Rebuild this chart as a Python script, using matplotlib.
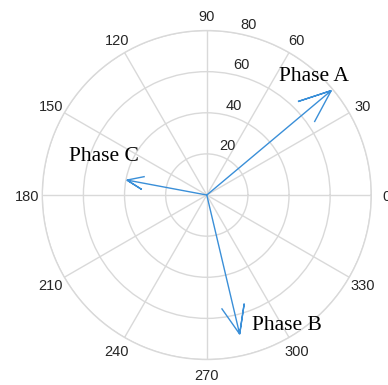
import numpy as np
import matplotlib
matplotlib.use("Agg")
import matplotlib.pyplot as plt

# Phasor data: magnitude and angle (degrees)
phases = ["Phase A", "Phase B", "Phase C"]
magnitudes = [79, 69.5, 39.5]
angles_deg = [40, 283.3, 169.4]

# Label anchor points (angle in degrees, radius)
label_angles = [57.4, 288.6, 166.0]
label_radii = [65.6, 69.4, 68.9]

ring_values = [20, 40, 60, 80]
spoke_angles = list(range(0, 360, 30))

grid_color = "#d9d9d9"
arrow_color = "#3a8fd8"
tick_color = "#262626"

fig = plt.figure(figsize=(3.88, 3.85), dpi=100)
ax = fig.add_axes([0.1090, 0.0662, 0.8479, 0.8545], projection="polar")
ax.set_rlim(0, 80)
ax.set_thetagrids(spoke_angles, [""] * len(spoke_angles))
ax.set_rgrids(ring_values, labels=[""] * len(ring_values))
ax.grid(True, color=grid_color, linewidth=1.0)
ax.spines["polar"].set_color(grid_color)
ax.spines["polar"].set_linewidth(1.0)

# Angle labels centred just outside the outer ring
label_r = ring_values[-1] * 1.094
for a in spoke_angles:
    ax.text(np.deg2rad(a), label_r, str(a), ha="center", va="center_baseline",
            fontsize=10.5, family="Liberation Sans", color=tick_color)

# Radial value labels along the 80 degree direction
for rv in ring_values:
    ax.annotate(str(rv), xy=(np.deg2rad(80), rv), xytext=(3.6, 3.2),
                textcoords="offset points", ha="left", va="baseline",
                fontsize=10.5, family="Liberation Sans", color=tick_color)

# Compass-style arrows: shaft plus two barbs scaled to each magnitude
shape = np.array([0, 1, 0.8 + 0.08j, 1, 0.8 - 0.08j])
for mag, ang in zip(magnitudes, angles_deg):
    z = mag * np.exp(1j * np.deg2rad(ang)) * shape
    ax.plot(np.angle(z), np.abs(z), color=arrow_color, linewidth=1.0,
            solid_joinstyle="miter")

for name, la, lr in zip(phases, label_angles, label_radii):
    ax.text(np.deg2rad(la), lr, name, ha="left", va="baseline",
            fontsize=15.5, family="Liberation Serif", color="black")

fig.savefig("out.png", dpi=100)
